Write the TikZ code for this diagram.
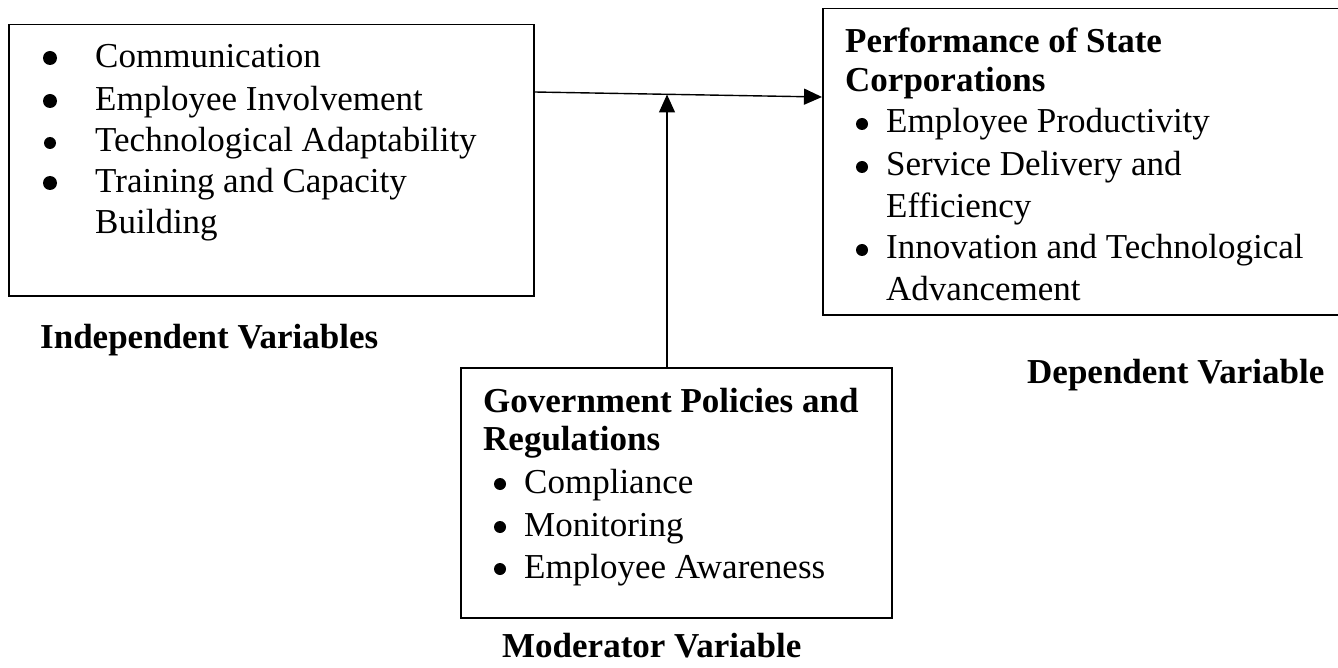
\documentclass[tikz,border=0pt]{standalone}
\usepackage{fontspec}
\setmainfont{Liberation Serif}
\usetikzlibrary{arrows.meta}
\begin{document}
\begin{tikzpicture}[x=1pt,y=-1pt,
  box/.style={draw=black,line width=1.5pt,inner sep=0pt,anchor=north west},
  txt/.style={inner sep=0pt,anchor=base west,font=\fontsize{35pt}{42pt}\selectfont},
  hdr/.style={txt,font=\fontsize{35pt}{42pt}\selectfont\bfseries},
  bul/.style={circle,fill=black,inner sep=0pt,minimum size=12pt},
  bigbul/.style={bul,minimum size=14pt},
  arr/.style={line width=1.4pt,-{Triangle[length=18pt,width=16pt]}}]
\useasboundingbox (0,0) rectangle (1338,668);
\clip (0,0) rectangle (1338,668);

% boxes
\node[box,minimum width=525pt,minimum height=271pt] (indep) at (8,24) {};
\node[box,minimum width=540pt,minimum height=306pt] (dep) at (822,8) {};
\node[box,minimum width=431pt,minimum height=250pt] (mod) at (460,367) {};

% independent variables
\node[bigbul] (ib1) at (50,58) {};
\node[bigbul] (ib2) at (50,101) {};
\node[bul] (ib3) at (50,143) {};
\node[bigbul] (ib4) at (50,183) {};
\node[txt] (i1) at (95,68) {Communication};
\node[txt] (i2) at (95,111) {Employee Involvement};
\node[txt] (i3) at (95,152) {Technological Adaptability};
\node[txt] (i4) at (95,193) {Training and Capacity};
\node[txt] (i5) at (95,234) {Building};
\node[hdr] (ilab) at (40,348) {Independent Variables};

% dependent variable
\node[hdr] (dh1) at (845,53) {Performance of State};
\node[hdr] (dh2) at (845,92) {Corporations};
\node[bul] (db1) at (862,124) {};
\node[bul] (db2) at (862,167) {};
\node[bul] (db3) at (862,250) {};
\node[txt] (d1) at (886,133) {Employee Productivity};
\node[txt] (d2) at (886,176) {Service Delivery and};
\node[txt] (d3) at (886,218) {Efficiency};
\node[txt] (d4) at (886,259) {Innovation and Technological};
\node[txt] (d5) at (886,300) {Advancement};
\node[hdr] (dlab) at (1027,383) {Dependent Variable};

% moderator variable
\node[hdr] (mh1) at (483,412) {Government Policies and};
\node[hdr] (mh2) at (483,450) {Regulations};
\node[bul] (mb1) at (500,484) {};
\node[bul] (mb2) at (500,527) {};
\node[bul] (mb3) at (500,569) {};
\node[txt] (m1) at (524,493) {Compliance};
\node[txt] (m2) at (524,536) {Monitoring};
\node[txt] (m3) at (524,578) {Employee Awareness};
\node[hdr] (mlab) at (502,657) {Moderator Variable};

% connectors
\coordinate (meet) at (667,94.5);
\draw[arr] ([yshift=-68pt]indep.north east) -- ([yshift=-89pt]dep.north west);
\draw[arr] (mod.north -| meet) -- (meet);
\end{tikzpicture}
\end{document}
